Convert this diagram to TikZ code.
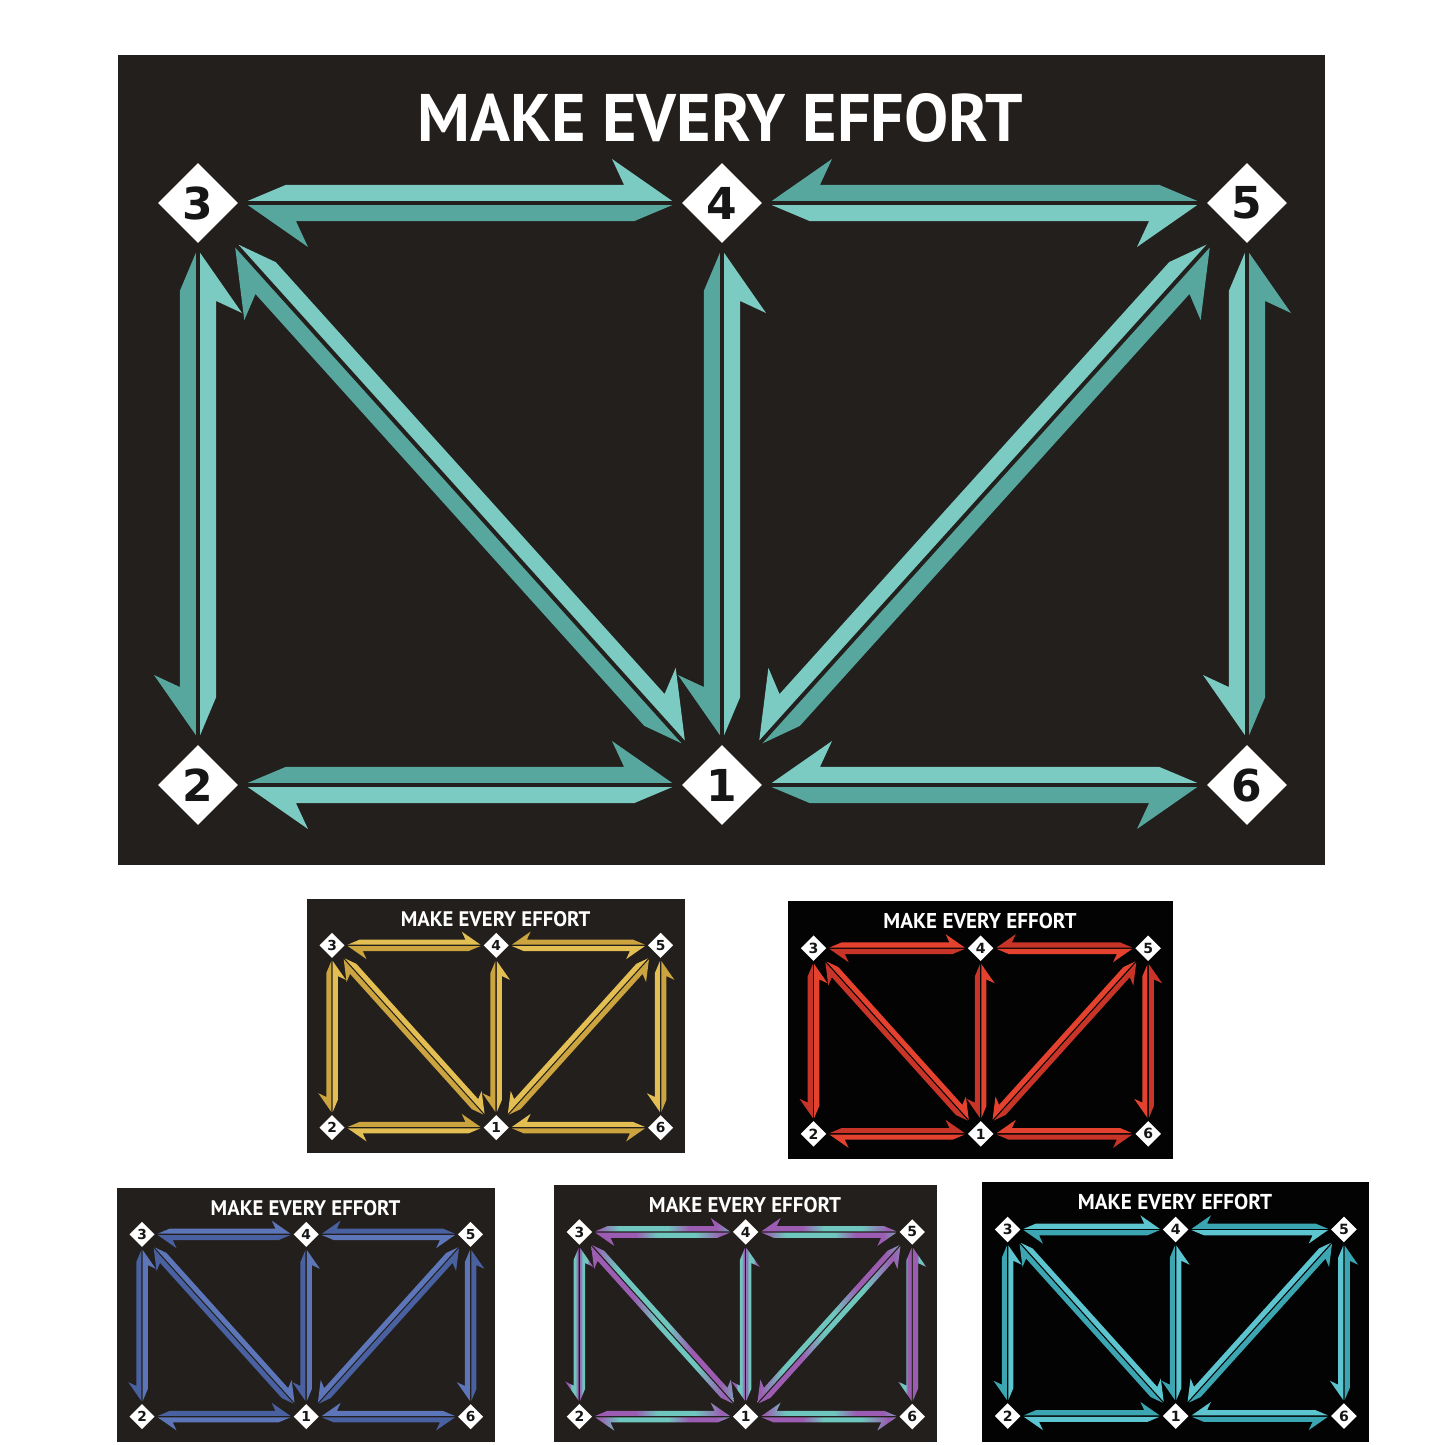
\documentclass[tikz,border=0pt]{standalone}
\usepackage{fontspec}
\setmainfont{PT Sans}
\newfontfamily\digitfont{DejaVu Sans}
\usepackage{graphicx}
\usetikzlibrary{shapes.geometric}
\definecolor{bgA}{HTML}{231F1C}
\definecolor{bgK}{HTML}{030303}
\definecolor{tealL}{HTML}{7CCBC3}
\definecolor{tealD}{HTML}{57A79F}
\definecolor{yelL}{HTML}{E3BE52}
\definecolor{yelD}{HTML}{CBA43F}
\definecolor{redL}{HTML}{E5412F}
\definecolor{redD}{HTML}{C83427}
\definecolor{bluL}{HTML}{5D76B9}
\definecolor{bluD}{HTML}{4A61A1}
\definecolor{cyaL}{HTML}{5CC5CF}
\definecolor{cyaD}{HTML}{3BA6B2}
\definecolor{mixT}{HTML}{6FC6BE}
\definecolor{mixP}{HTML}{9B5CB2}
\definecolor{digit}{HTML}{161616}
\pgfdeclarehorizontalshading{mixA}{100bp}{color(0bp)=(mixT); color(18bp)=(mixT); color(26bp)=(mixP); color(34bp)=(mixT); color(52bp)=(mixT); color(60bp)=(mixP); color(70bp)=(mixP); color(78bp)=(mixT); color(100bp)=(mixT)}
\pgfdeclarehorizontalshading{mixB}{100bp}{color(0bp)=(mixT); color(12bp)=(mixT); color(22bp)=(mixP); color(40bp)=(mixP); color(48bp)=(mixT); color(62bp)=(mixT); color(72bp)=(mixP); color(82bp)=(mixT); color(100bp)=(mixT)}
\def\hg{2.2}
\def\hw{16}
\def\ha{38}
\def\hb{48}
\def\hc{12}
\def\hV{44}
\tikzset{
  dia/.style={shape=diamond, fill=white, inner sep=0pt, minimum width=80pt, minimum height=80pt,
    text=digit, font=\digitfont\fontsize{44}{44}\selectfont\bfseries},
  ttl/.style={text=white, inner sep=0pt, font=\bfseries},
}
% half arrow from node #1 to node #2, inset #3, side #4, style #5
\newcommand\halfarr[5]{%
  \pgfmathanglebetweenpoints{\pgfpointanchor{#1}{center}}{\pgfpointanchor{#2}{center}}%
  \let\hAng\pgfmathresult
  \pgfpointdiff{\pgfpointanchor{#1}{center}}{\pgfpointanchor{#2}{center}}%
  \pgfgetlastxy{\hDx}{\hDy}%
  \pgfmathsetmacro\hLen{veclen(\hDx,\hDy)-2*#3}%
  \begin{scope}[shift={(#1.center)}, rotate=\hAng, yscale=#4]
    \path[#5] (#3,\hg) -- ({#3+\ha},{\hg+\hw}) -- ({#3+\hLen-\hb},{\hg+\hw})
      -- ({#3+\hLen-\hb-\hc},\hV) -- ({#3+\hLen},\hg) -- cycle;
  \end{scope}%
}
% panel: #1 prefix, #2 x0, #3 y0, #4 scale, #5 bg, #6 light style, #7 dark style
\newcommand\panel[7]{%
\begin{scope}[shift={(#2,-#3)}, scale=#4, transform shape, L/.style={#6}, D/.style={#7}]
  \fill[#5] (0,0) rectangle (1207,-810);
  \node[ttl] (#1t) at (602,-63) {\resizebox{605pt}{48pt}{MAKE EVERY EFFORT}};
  \node[dia] (#1n3) at (80,-148) {3};
  \node[dia] (#1n4) at (604,-148) {4};
  \node[dia] (#1n5) at (1129,-148) {5};
  \node[dia] (#1n2) at (80,-730) {2};
  \node[dia] (#1n1) at (604,-730) {1};
  \node[dia] (#1n6) at (1129,-730) {6};
  % horizontals
  \halfarr{#1n3}{#1n4}{50}{1}{L}
  \halfarr{#1n4}{#1n3}{50}{1}{D}
  \halfarr{#1n5}{#1n4}{50}{-1}{D}
  \halfarr{#1n4}{#1n5}{50}{-1}{L}
  \halfarr{#1n2}{#1n1}{50}{1}{D}
  \halfarr{#1n1}{#1n2}{50}{1}{L}
  \halfarr{#1n6}{#1n1}{50}{-1}{L}
  \halfarr{#1n1}{#1n6}{50}{-1}{D}
  % verticals
  \halfarr{#1n3}{#1n2}{50}{-1}{D}
  \halfarr{#1n2}{#1n3}{50}{-1}{L}
  \halfarr{#1n4}{#1n1}{50}{-1}{D}
  \halfarr{#1n1}{#1n4}{50}{-1}{L}
  \halfarr{#1n5}{#1n6}{50}{-1}{L}
  \halfarr{#1n6}{#1n5}{50}{-1}{D}
  % diagonals
  \halfarr{#1n3}{#1n1}{58}{1}{L}
  \halfarr{#1n1}{#1n3}{58}{1}{D}
  \halfarr{#1n5}{#1n1}{58}{-1}{L}
  \halfarr{#1n1}{#1n5}{58}{-1}{D}
\end{scope}%
}
\begin{document}
\begin{tikzpicture}[x=1pt,y=1pt]
  \fill[white] (0,0) rectangle (1445,-1445);
  \useasboundingbox (0,0) rectangle (1445,-1445);
  \panel{m}{118}{55}{1}{bgA}{fill=tealL}{fill=tealD}
  \panel{y}{307}{899}{0.3132}{bgA}{fill=yelL}{fill=yelD}
  \panel{r}{788}{901}{0.319}{bgK}{fill=redL}{fill=redD}
  \panel{b}{117}{1188}{0.3132}{bgA}{fill=bluL}{fill=bluD}
  \panel{x}{554}{1185}{0.3173}{bgA}{shade, shading=mixA}{shade, shading=mixB}
  \panel{c}{982}{1182}{0.3206}{bgK}{fill=cyaL}{fill=cyaD}
\end{tikzpicture}
\end{document}
